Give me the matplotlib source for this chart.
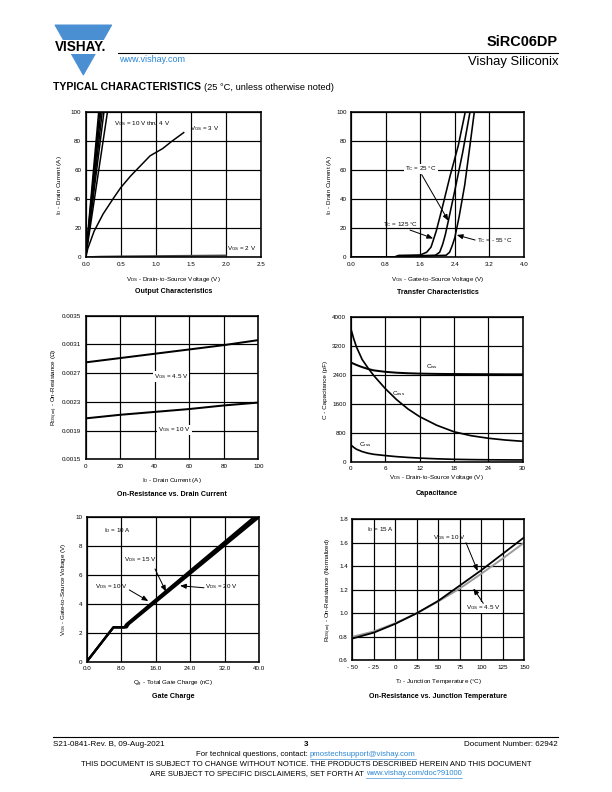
import matplotlib
matplotlib.use('Agg')
import matplotlib.pyplot as plt
from matplotlib.patches import Polygon, Rectangle

plt.rcParams['font.family'] = ['Liberation Sans', 'DejaVu Sans']
plt.rcParams['mathtext.fontset'] = 'custom'
plt.rcParams['mathtext.rm'] = 'Liberation Sans'
plt.rcParams['mathtext.it'] = 'Liberation Sans:italic'
plt.rcParams['mathtext.bf'] = 'Liberation Sans:bold'

# ---------------- data ----------------
# Output characteristics (VGS 10 V thru 4 V, 3 V, 2 V)
out_steep_vds = [[0, 0.092, 0.185], [0, 0.10, 0.20], [0, 0.108, 0.215],
                 [0, 0.118, 0.235], [0, 0.13, 0.26], [0, 0.155, 0.31]]
out_steep_id = [0, 50, 100]
out_3v_vds = [0, 0.03, 0.12, 0.25, 0.4, 0.5, 0.64, 0.8, 0.92, 1.1, 1.23, 1.4]
out_3v_id = [0, 6, 18, 30, 41, 48, 56, 64, 70, 75, 80, 86]
out_2v_vds = [0, 0.2, 0.5, 1.0, 1.5, 2.0]
out_2v_id = [0, 0.4, 0.6, 0.8, 1.0, 1.2]

# Transfer characteristics
tr_125_vgs = [0, 1.0, 1.1, 1.6, 1.75, 1.85, 1.90, 1.97, 2.10, 2.29, 2.48, 2.64]
tr_125_id = [0, 0.2, 1.3, 1.6, 3.5, 7, 11.5, 18, 33, 56, 77, 100]
tr_25_vgs = [0, 1.2, 1.4, 1.95, 2.05, 2.12, 2.18, 2.25, 2.40, 2.58, 2.75]
tr_25_id = [0, 0.1, 1.0, 1.4, 3.5, 9, 15.5, 25, 46, 72, 100]
tr_m55_vgs = [0, 1.5, 1.7, 2.2, 2.28, 2.34, 2.40, 2.50, 2.63, 2.75, 2.85]
tr_m55_id = [0, 0.1, 0.9, 1.4, 3.5, 8, 13.5, 28, 50, 77, 100]

# On-resistance vs drain current
rd_id = [0, 20, 40, 60, 80, 100]
rd_45v = [0.00285, 0.00291, 0.00297, 0.00303, 0.00309, 0.00316]
rd_10v = [0.00207, 0.00212, 0.00216, 0.00220, 0.00225, 0.00229]

# Capacitance
cap_vds = [0, 0.5, 1, 2, 3, 4, 6, 8, 10, 12, 15, 18, 21, 24, 27, 30]
cap_ciss = [2750, 2715, 2680, 2620, 2570, 2530, 2490, 2465, 2450, 2440,
            2432, 2428, 2425, 2423, 2421, 2420]
cap_coss = [3700, 3420, 3180, 2830, 2600, 2390, 2030, 1720, 1460, 1250,
            1010, 830, 720, 650, 600, 565]
cap_crss = [470, 400, 345, 280, 235, 205, 170, 140, 118, 100, 80, 66,
            58, 53, 50, 48]

# Gate charge (VDS = 10, 15, 20 V)
gc_qg = [[0, 6.2, 8.7, 9.2, 38.8], [0, 6.2, 9.0, 9.5, 39.4], [0, 6.2, 9.3, 9.8, 40.0]]
gc_vgs = [0, 2.38, 2.38, 2.6, 10]

# On-resistance vs junction temperature
tj = [-50, -25, 0, 25, 50, 75, 100, 125, 150]
rt_10v = [0.785, 0.835, 0.91, 1.0, 1.105, 1.235, 1.365, 1.505, 1.645]
rt_45v = [0.80, 0.845, 0.915, 1.0, 1.10, 1.21, 1.335, 1.465, 1.60]

# ---------------- figure ----------------
W, H = 612, 792
fig = plt.figure(figsize=(W / 72, H / 72), dpi=72)
ov = fig.add_axes([0, 0, 1, 1])
ov.set_xlim(0, W)
ov.set_ylim(H, 0)
ov.axis('off')

FS = 6.2
TS = 7.1
blue = '#4b8fd3'
link = '#2a86d4'
VGS = r'$\mathregular{V_{GS}}$'
VDS = r'$\mathregular{V_{DS}}$'
ID = r'$\mathregular{I_D}$'
TC = r'$\mathregular{T_C}$'


def panel(l, t, r, b):
    ax = fig.add_axes([l / W, 1 - b / H, (r - l) / W, (b - t) / H])
    ax.grid(True, color='black', lw=1.2)
    ax.set_axisbelow(True)
    for s in ax.spines.values():
        s.set_linewidth(1.6)
    ax.tick_params(length=0, pad=4.5, labelsize=FS)
    ax.bx = (l, t, r, b)
    return ax


def labels(ax, xlabel, ylabel, title, xl_y, yl_x, t_y):
    l, t, r, b = ax.bx
    ax.set_xlabel(xlabel, fontsize=FS)
    ax.set_ylabel(ylabel, fontsize=FS)
    ax.xaxis.set_label_coords(0.5, -(xl_y - 3.5 - b) / (b - t))
    ax.yaxis.set_label_coords((yl_x + 3.5 - l) / (r - l), 0.5)
    ax.text(0.5, -(t_y - b) / (b - t), title, transform=ax.transAxes,
            ha='center', va='center', fontsize=TS, fontweight='bold')


def note(ax, x, y, s, ha='center', bg=False):
    kw = {}
    if bg:
        kw['bbox'] = dict(facecolor='white', edgecolor='none', pad=1)
    ax.text(x, y, s, ha=ha, va='center', fontsize=FS, **kw)


def arrow(ax, src, dst):
    ax.annotate('', xy=dst, xytext=src,
                arrowprops=dict(arrowstyle='-|>,head_length=0.5,head_width=0.2',
                                color='black', lw=1.0, shrinkA=0, shrinkB=0))


# 1 - Output characteristics
ax = panel(85.7, 112.3, 260.7, 257.3)
for v in out_steep_vds:
    ax.plot(v, out_steep_id, color='black', lw=1.5)
ax.plot(out_3v_vds, out_3v_id, color='black', lw=1.5)
ax.plot(out_2v_vds, out_2v_id, color='#444444', lw=2.0)
ax.set_xlim(0, 2.5)
ax.set_ylim(0, 100)
ax.set_xticks([0, 0.5, 1.0, 1.5, 2.0, 2.5])
ax.set_xticklabels(['0.0', '0.5', '1.0', '1.5', '2.0', '2.5'])
ax.set_yticks([0, 20, 40, 60, 80, 100])
note(ax, 0.40, 92.5, VGS + ' = 10 V thru 4 V', ha='left')
note(ax, 1.49, 88.5, VGS + ' = 3 V', ha='left')
note(ax, 2.02, 5.7, VGS + ' = 2 V', ha='left')
labels(ax, VDS + ' - Drain-to-Source Voltage (V)', ID + ' - Drain Current (A)',
       'Output Characteristics', 278, 60.7, 292)

# 2 - Transfer characteristics
ax = panel(351, 112.3, 524, 257.3)
ax.plot(tr_125_vgs, tr_125_id, color='black', lw=1.6)
ax.plot(tr_25_vgs, tr_25_id, color='black', lw=1.6)
ax.plot(tr_m55_vgs, tr_m55_id, color='black', lw=1.6)
ax.set_xlim(0, 4.0)
ax.set_ylim(0, 100)
ax.set_xticks([0, 0.8, 1.6, 2.4, 3.2, 4.0])
ax.set_xticklabels(['0.0', '0.8', '1.6', '2.4', '3.2', '4.0'])
ax.set_yticks([0, 20, 40, 60, 80, 100])
note(ax, 1.62, 60.9, TC + ' = 25 °C', bg=True)
arrow(ax, (1.635, 57.0), (2.25, 25.2))
note(ax, 1.156, 22.3, TC + ' = 125 °C')
arrow(ax, (1.364, 18.8), (1.90, 13.0))
note(ax, 2.906, 11.4, TC + ' = - 55 °C', ha='left')
arrow(ax, (2.87, 11.9), (2.444, 15.4))
labels(ax, VGS + ' - Gate-to-Source Voltage (V)', ID + ' - Drain Current (A)',
       'Transfer Characteristics', 279, 330, 292.3)

# 3 - On-resistance vs drain current
ax = panel(85.7, 315.7, 258.3, 459.3)
ax.plot(rd_id, rd_45v, color='black', lw=2.0)
ax.plot(rd_id, rd_10v, color='black', lw=2.0)
ax.set_xlim(0, 100)
ax.set_ylim(0.0015, 0.0035)
ax.set_xticks([0, 20, 40, 60, 80, 100])
ax.set_yticks([0.0015, 0.0019, 0.0023, 0.0027, 0.0031, 0.0035])
ax.set_yticklabels(['0.0015', '0.0019', '0.0023', '0.0027', '0.0031', '0.0035'])
note(ax, 49.4, 0.00265, VGS + ' = 4.5 V', bg=True)
note(ax, 51.3, 0.001908, VGS + ' = 10 V', bg=True)
labels(ax, ID + ' - Drain Current (A)',
       r'$\mathregular{R_{DS(on)}}$ - On-Resistance (Ω)',
       'On-Resistance vs. Drain Current', 479.7, 56.7, 494)

# 4 - Capacitance
ax = panel(350.7, 317.3, 522.7, 461.7)
ax.plot(cap_vds, cap_ciss, color='black', lw=2.0)
ax.plot(cap_vds, cap_coss, color='black', lw=1.7)
ax.plot(cap_vds, cap_crss, color='black', lw=1.7)
ax.set_xlim(0, 30)
ax.set_ylim(0, 4000)
ax.set_xticks([0, 6, 12, 18, 24, 30])
ax.set_yticks([0, 800, 1600, 2400, 3200, 4000])
note(ax, 14.1, 2640, r'$\mathregular{C_{iss}}$')
note(ax, 8.3, 1895, r'$\mathregular{C_{oss}}$')
note(ax, 2.6, 463, r'$\mathregular{C_{rss}}$')
labels(ax, VDS + ' - Drain-to-Source Voltage (V)', 'C - Capacitance (pF)',
       'Capacitance', 477, 324, 494)

# 5 - Gate charge
ax = panel(86.7, 517.3, 259, 661.7)
for q in gc_qg:
    ax.plot(q, gc_vgs, color='black', lw=2.2)
ax.set_xlim(0, 40)
ax.set_ylim(0, 10)
ax.set_xticks([0, 8, 16, 24, 32, 40])
ax.set_xticklabels(['0.0', '8.0', '16.0', '24.0', '32.0', '40.0'])
ax.set_yticks([0, 2, 4, 6, 8, 10])
note(ax, 4.0, 9.05, ID + ' = 10 A', ha='left')
note(ax, 12.5, 7.09, VDS + ' = 15 V')
arrow(ax, (15.86, 6.42), (18.41, 4.85))
note(ax, 5.76, 5.19, VDS + ' = 10 V')
arrow(ax, (9.89, 4.97), (14.3, 4.2))
note(ax, 31.2, 5.19, VDS + ' = 20 V')
arrow(ax, (27.23, 5.12), (21.66, 5.26))
labels(ax, r'$\mathregular{Q_g}$ - Total Gate Charge (nC)',
       VGS + ' - Gate-to-Source Voltage (V)', 'Gate Charge', 682, 65, 696)

# 6 - On-resistance vs junction temperature
ax = panel(352.3, 519, 524.3, 660.3)
ax.plot(tj, rt_45v, color='#999999', lw=1.9)
ax.plot(tj, rt_10v, color='black', lw=1.8)
ax.set_xlim(-50, 150)
ax.set_ylim(0.6, 1.8)
ax.set_xticks([-50, -25, 0, 25, 50, 75, 100, 125, 150])
ax.set_xticklabels(['- 50', '- 25', '0', '25', '50', '75', '100', '125', '150'])
ax.set_yticks([0.6, 0.8, 1.0, 1.2, 1.4, 1.6, 1.8])
ax.set_yticklabels(['0.6', '0.8', '1.0', '1.2', '1.4', '1.6', '1.8'])
note(ax, -33.3, 1.707, ID + ' = 15 A', ha='left')
note(ax, 62.7, 1.645, VGS + ' = 10 V')
arrow(ax, (82.2, 1.599), (95.8, 1.358))
note(ax, 102.3, 1.047, VGS + ' = 4.5 V', bg=True)
arrow(ax, (102.3, 1.084), (90.7, 1.211))
labels(ax, r'$\mathregular{T_J}$ - Junction Temperature (°C)',
       r'$\mathregular{R_{DS(on)}}$ - On-Resistance (Normalized)',
       'On-Resistance vs. Junction Temperature', 680, 330, 696)

# ---------------- page header ----------------
ov.add_patch(Polygon([[55, 25], [111.7, 25], [83.3, 75]], closed=True, color=blue))
ov.add_patch(Rectangle((48, 40), 68, 13, color='white'))
ov.text(81, 47, 'VISHAY.', fontsize=13.5, fontweight='bold', ha='center', va='center')
ov.plot([118, 558], [53, 53], color='black', lw=1.1)
ov.text(558, 42, 'SiRC06DP', ha='right', va='center', fontsize=14.5, fontweight='bold')
ov.text(558, 62.5, 'Vishay Siliconix', ha='right', va='center', fontsize=13)
ov.text(119, 59.5, 'www.vishay.com', color=link, fontsize=9, va='center')

r = fig.canvas.get_renderer()
t1 = ov.text(53, 87, 'TYPICAL CHARACTERISTICS', fontweight='bold', fontsize=10.5, va='center')
w1 = t1.get_window_extent(r).width
ov.text(53 + w1 + 3, 87.5, '(25 °C, unless otherwise noted)', fontsize=9.2, va='center')

# ---------------- page footer ----------------
ov.plot([53, 558], [737, 737], color='black', lw=1.1)
ov.text(53, 744.5, 'S21-0841-Rev. B, 09-Aug-2021', fontsize=8, va='center')
ov.text(306, 745, '3', fontsize=8, fontweight='bold', ha='center', va='center')
ov.text(558, 744.5, 'Document Number: 62942', fontsize=8, ha='right', va='center')


def two_part(y, a, b, size):
    ta = ov.text(0, y, a, fontsize=size, va='center')
    tb = ov.text(0, y, b, fontsize=size, va='center', color=link)
    wa = ta.get_window_extent(r).width
    wb = tb.get_window_extent(r).width
    x0 = 306 - (wa + wb + 2) / 2
    ta.set_x(x0)
    tb.set_x(x0 + wa + 2)
    ov.plot([x0 + wa + 2, x0 + wa + 2 + wb], [y + 4, y + 4], color=link, lw=0.6)


two_part(754.5, 'For technical questions, contact:', 'pmostechsupport@vishay.com', 7.8)
ov.text(306, 764.5, 'THIS DOCUMENT IS SUBJECT TO CHANGE WITHOUT NOTICE. THE PRODUCTS '
        'DESCRIBED HEREIN AND THIS DOCUMENT', fontsize=7.6, ha='center', va='center')
two_part(773.5, 'ARE SUBJECT TO SPECIFIC DISCLAIMERS, SET FORTH AT', 'www.vishay.com/doc?91000', 7.6)

fig.savefig('out.png', dpi=72)
